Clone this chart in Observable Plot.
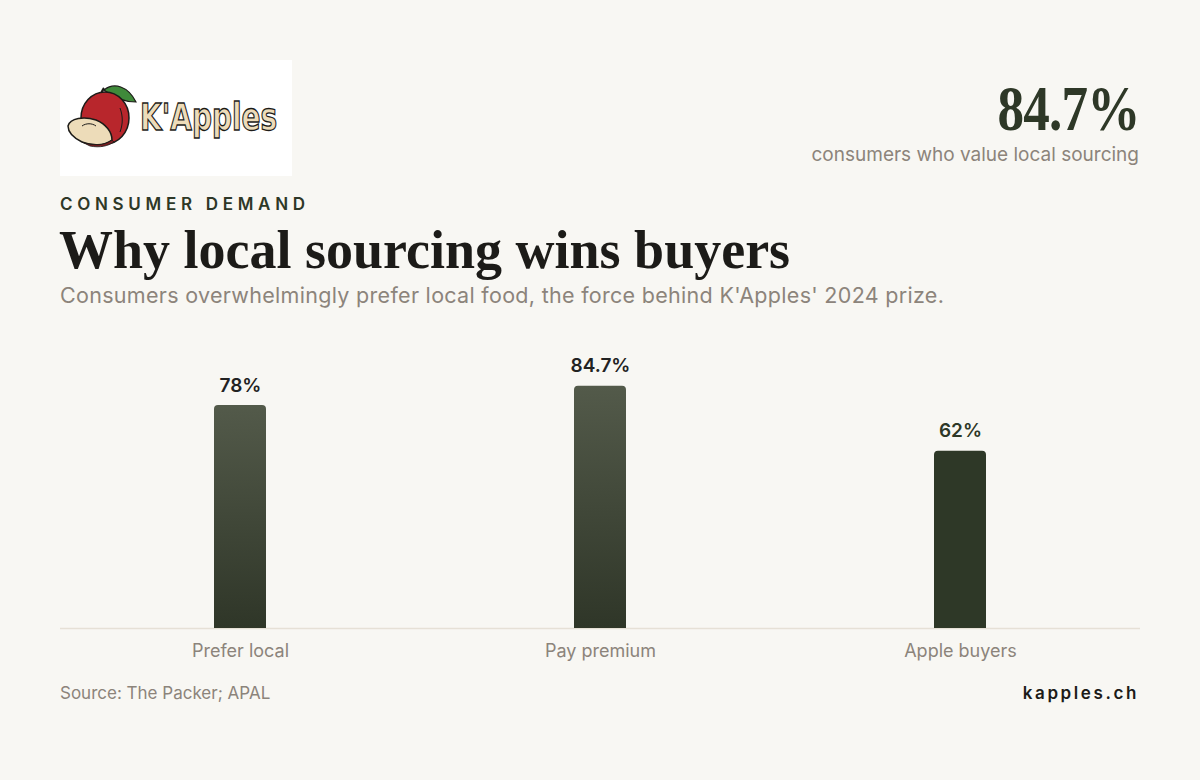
<!DOCTYPE html>
<html>
<head>
<meta charset="utf-8">
<script src="https://cdn.jsdelivr.net/npm/d3@7"></script>
<script src="https://cdn.jsdelivr.net/npm/@observablehq/plot@0.6"></script>
<style>
  html, body { margin: 0; padding: 0; background: #f8f7f3; }
  body { width: 1200px; height: 780px; position: relative; overflow: hidden; font-family: Inter, "Noto Sans", sans-serif; }
  .abs { position: absolute; }
  #logo { left: 60px; top: 60px; width: 232px; height: 116px; background: #ffffff; }
  #kpi { right: 61px; top: 74px; text-align: right; }
  #kpi .num { font-family: "Liberation Serif", "DejaVu Serif", serif; font-weight: 700; font-size: 64px; line-height: 70px; color: #2e3827; letter-spacing: -1px; transform: scaleX(0.83); transform-origin: right center; }
  #kpi .lbl { font-size: 19px; color: #8c847b; line-height: 22px; margin-top: 0px; }
  #eyebrow { left: 60px; top: 194px; font-size: 17px; font-weight: 600; letter-spacing: 4.7px; color: #2e3827; }
  #title { left: 59px; top: 218px; font-family: "Liberation Serif", "DejaVu Serif", serif; font-weight: 700; font-size: 54px; line-height: 64px; color: #1c1b18; letter-spacing: 0px; }
  #subtitle { left: 60px; top: 282px; font-size: 21.5px; color: #8c847b; letter-spacing: 0.3px; }
  #chart { left: 60px; top: 330px; }
  #source { left: 60px; top: 683px; font-size: 17px; color: #8c847b; }
  #site { right: 61px; top: 683px; font-size: 17px; font-weight: 600; letter-spacing: 2.6px; color: #1c1b18; }
</style>
</head>
<body>
<div id="logo" class="abs">
  <svg width="232" height="116" viewBox="0 0 232 116">
    <path d="M40 42 C40 36 41 32 44 28" fill="none" stroke="#1c1b18" stroke-width="2.2"/>
    <path d="M44 30 C54 22 68 26 76 42 C66 42 54 38 44 30 Z" fill="#3f8a3a" stroke="#1c1b18" stroke-width="1.2"/>
    <ellipse cx="45" cy="58" rx="24" ry="26" fill="#b8262c" stroke="#1c1b18" stroke-width="1.5"/>
    <path d="M60 48 C63 56 63 64 60 72" fill="none" stroke="#1c1b18" stroke-width="1"/>
    <path d="M8 66 C10 58 24 56 36 60 C46 64 52 72 52 80 C44 86 32 86 22 82 C14 78 8 72 8 66 Z" fill="#eddcb9" stroke="#1c1b18" stroke-width="1.5"/>
    <path d="M52 80 C44 86 32 86 22 82 L30 86 C40 88 48 86 54 82 Z" fill="#7a1f22" stroke="#1c1b18" stroke-width="0.8"/>
    <path d="M22 66 C26 63 32 63 36 66" fill="none" stroke="#1c1b18" stroke-width="1"/>
    <text transform="translate(80,70) scale(1,1.3)" font-family="'DejaVu Sans', sans-serif" font-weight="700" font-size="28" fill="#eddcb9" stroke="#1c1b18" stroke-width="1">K'Apples</text>
  </svg>
</div>
<div id="kpi" class="abs"><div class="num">84.7%</div><div class="lbl">consumers who value local sourcing</div></div>
<div id="eyebrow" class="abs">CONSUMER DEMAND</div>
<div id="title" class="abs">Why local sourcing wins buyers</div>
<div id="subtitle" class="abs">Consumers overwhelmingly prefer local food, the force behind K'Apples' 2024 prize.</div>
<div id="chart" class="abs"></div>
<div id="source" class="abs">Source: The Packer; APAL</div>
<div id="site" class="abs">kapples.ch</div>
<script>
const categories = ["Prefer local", "Pay premium", "Apple buyers"];
const values = [78, 84.7, 62];
const valueLabels = ["78%", "84.7%", "62%"];
const highlighted = [false, false, true];

const data = categories.map((c, i) => ({category: c, value: values[i], label: valueLabels[i], hi: highlighted[i]}));

const plot = Plot.plot({
  width: 1080,
  height: 350,
  marginTop: 12,
  marginBottom: 52,
  marginLeft: 0,
  marginRight: 0,
  style: {background: "transparent", fontFamily: "Inter, sans-serif", overflow: "visible"},
  x: {domain: categories, paddingInner: 0.856, paddingOuter: 0.428, label: null},
  y: {domain: [0, 100], axis: null},
  marks: [
    Plot.ruleY([0], {stroke: "#e6e0d6", strokeWidth: 1.5}),
    Plot.barY(data.filter(d => !d.hi), {x: "category", y: "value", fill: "#3f4637", ry1: 4, className: "gradbar"}),
    Plot.barY(data.filter(d => d.hi), {x: "category", y: "value", fill: "#2e3827", ry1: 4}),
    Plot.text(data.filter(d => !d.hi), {x: "category", y: "value", text: "label", dy: -20, fontSize: 19, fontWeight: 600, fill: "#222222"}),
    Plot.text(data.filter(d => d.hi), {x: "category", y: "value", text: "label", dy: -20, fontSize: 19, fontWeight: 600, fill: "#2e3827"}),
    Plot.axisX({tickSize: 0, tickPadding: 16, fontSize: 18, color: "#8c847b", label: null})
  ]
});

const svg = d3.select(plot);
const defs = svg.insert("defs", ":first-child");
const grad = defs.append("linearGradient").attr("id", "barGrad").attr("x1", 0).attr("y1", 0).attr("x2", 0).attr("y2", 1);
grad.append("stop").attr("offset", "0%").attr("stop-color", "#535a4a");
grad.append("stop").attr("offset", "100%").attr("stop-color", "#2f3628");
svg.selectAll("g.gradbar").attr("fill", "url(#barGrad)");
svg.selectAll("g.gradbar rect").attr("fill", "url(#barGrad)");
document.getElementById("chart").appendChild(plot);
</script>
</body>
</html>
